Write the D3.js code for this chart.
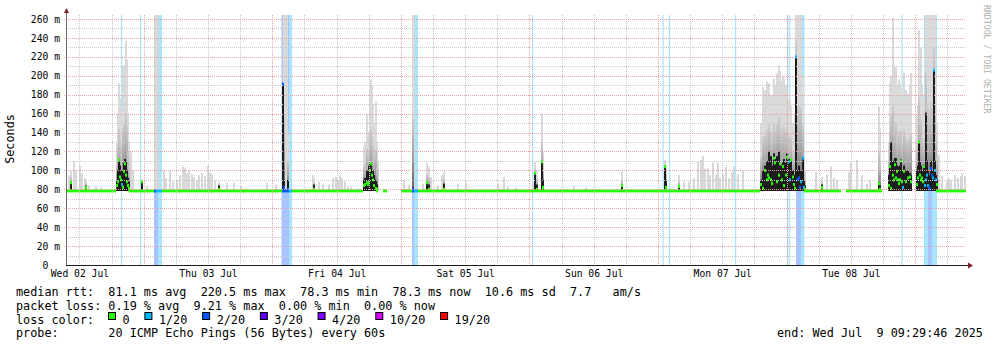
<!DOCTYPE html>
<html>
<head>
<meta charset="utf-8">
<script src="https://cdn.jsdelivr.net/npm/d3@7"></script>
<style>
html, body { margin: 0; padding: 0; background: #fff; }
svg text { font-family: "DejaVu Sans Mono", monospace; }
</style>
</head>
<body>
<div id="chart"></div>
<script>
// rrd rows: 900 rows of 672 s each, ending at the end stamp (one week)
const endStamp = new Date(2025, 6, 9, 9, 29, 46);
const rowSeconds = 672;
const baseMedian = 78.3;

const lossColors = ["#26ff00", "#00b8ff", "#0059ff", "#5e00ff", "#7e00ff", "#dd00ff", "#ff0000"];
const lossLabels = ["0", "1/20", "2/20", "3/20", "4/20", "10/20", "19/20"];

const yTicks = [0, 20, 40, 60, 80, 100, 120, 140, 160, 180, 200, 220, 240, 260];

// median at the base value: [start row, end row, loss level]
const medianRuns = [
    [0, 50, 0], [62.5, 88, 0], [88, 90, 2], [90, 96, 1], [96, 216, 0], [216, 223, 2], [223, 226, 1],
    [226, 297, 0], [310, 312, 0], [317, 321, 0], [335, 346, 0], [346, 348, 2], [348, 352, 1],
    [352, 694, 0], [738, 775, 0], [780, 816, 0], [870, 900, 0]
];

// rows with packet loss: [start row, end row, loss level]
const lossBands = [
    [55, 56.2, 1], [74, 75.2, 1], [88, 92, 2], [92, 96, 1], [215.5, 223, 2], [223, 226, 1],
    [346, 348, 2], [348, 352, 1], [466, 467.2, 1], [596.5, 597.7, 1], [603, 604.2, 1],
    [669, 670.2, 1], [721, 722.2, 1], [723, 724.2, 1], [730, 735, 2], [735, 738.5, 1],
    [835.5, 836.7, 1], [858, 862, 1], [862, 866, 2], [866, 871, 1]
];

// light smoke only: [row, max ping ms]
const lightSmoke = [
    [2, 95], [7, 109], [9, 100], [13, 105], [15, 97], [18, 92], [22, 84], [29, 83], [34, 82],
    [64, 120], [66, 100], [80, 84], [88, 265], [89, 265], [90, 265], [91, 265], [97, 100], [99, 92],
    [103, 100], [106, 88], [110, 90], [113, 95], [116, 104], [118, 103], [120, 97], [122, 100],
    [125, 96], [127, 93], [130, 90], [132, 95], [135, 97], [138, 94], [141, 105], [143, 98],
    [145, 96], [148, 90], [160, 87], [167, 87], [174, 84], [200, 87], [209, 85], [218, 265],
    [219, 265], [220, 265], [246, 95], [252, 88], [256, 86], [262, 85], [266, 92], [269, 93],
    [271, 90], [273, 95], [275, 92], [278, 88], [281, 83], [284, 83], [291, 81], [311, 110],
    [337, 90], [342, 85], [347, 265], [356, 86], [364, 93], [371, 84], [375, 95], [391, 86],
    [399, 87], [431, 86], [437, 93], [441, 83], [449, 82], [466, 87], [507, 84], [519, 82],
    [617, 88], [622, 88], [627, 92], [631, 109], [634, 111], [636, 115], [638, 102], [641, 102],
    [643, 95], [646, 108], [649, 96], [651, 108], [653, 92], [656, 96], [659, 104], [662, 92],
    [665, 98], [667, 104], [671, 96], [676, 100], [749, 98], [760, 96], [764, 104], [767, 92],
    [770, 90], [782, 98], [784, 108], [790, 111], [795, 95], [800, 86], [803, 90], [872, 116],
    [875, 94], [880, 88], [882, 92], [884, 90], [888, 95], [891, 92], [894, 94], [895, 97], [898, 94]
];

// spikes: [row, median ms, dark smoke top ms, max ping ms, loss level]
const spikes = [
    [4, 87, 88, 100, 0], [19, 82, 84, 90, 0],
    [50, 84, 90, 130, 0], [51, 88, 100, 160, 0], [52, 111, 112, 192, 0], [53, 93, 105, 176, 0],
    [54, 90, 100, 165, 0], [55, 85, 95, 150, 1], [56, 82, 100, 211, 0], [57, 99, 108, 211, 0],
    [58, 107, 112, 200, 0], [59, 95, 110, 237, 0], [60, 88, 100, 217, 0], [61, 84, 92, 160, 0],
    [62, 81, 88, 130, 0], [75, 88, 88, 91, 0], [152, 80, 84, 88, 0],
    [216, 191, 191, 191, 2], [217, 82, 90, 265, 2], [221, 80, 90, 140, 2], [247, 80, 85, 92, 0],
    [297, 84, 90, 125, 0], [298, 85, 92, 130, 0], [300, 87, 100, 160, 0], [301, 85, 95, 120, 0],
    [302, 87, 105, 140, 0], [303, 100, 107, 185, 0], [304, 107, 108, 196, 0], [305, 95, 100, 190, 0],
    [306, 90, 100, 170, 0], [307, 84, 95, 150, 0], [309, 81, 90, 173, 0], [310, 80, 85, 130, 0],
    [346, 80, 82, 265, 2], [360, 87, 88, 108, 0], [362, 80, 85, 104, 0], [377, 80, 86, 99, 0],
    [468, 97, 97, 109, 0], [470, 80, 85, 100, 0], [475, 109, 109, 160, 0], [476, 82, 90, 120, 0],
    [555, 84, 84, 99, 0], [598, 104, 104, 111, 0], [599, 82, 90, 105, 0], [612, 83, 84, 95, 0],
    [694, 85, 90, 150, 0], [696, 81, 100, 188, 0], [698, 100, 105, 185, 0], [700, 90, 110, 194, 0],
    [701, 95, 105, 190, 0], [702, 92, 120, 192, 0], [704, 90, 115, 180, 0], [705, 86, 105, 178, 0],
    [707, 113, 118, 197, 0], [708, 108, 112, 190, 0], [710, 88, 115, 203, 0], [712, 95, 120, 211, 0],
    [713, 107, 110, 205, 0], [715, 90, 105, 194, 0], [716, 104, 108, 200, 0], [717, 84, 112, 197, 0],
    [719, 95, 108, 190, 0], [720, 114, 118, 183, 0], [722, 109, 112, 175, 1], [723, 90, 100, 175, 1],
    [724, 111, 112, 169, 0], [726, 93, 100, 150, 0], [727, 85, 95, 148, 0], [728, 81, 92, 160, 0],
    [729, 220, 220, 265, 1], [730, 90, 100, 265, 2], [732, 92, 105, 265, 2], [733, 82, 100, 265, 2],
    [734, 88, 100, 265, 1], [736, 113, 113, 200, 1], [737, 82, 90, 116, 1], [738, 80, 84, 100, 0],
    [755, 82, 85, 93, 0],
    [812, 86, 87, 167, 0], [813, 80, 84, 144, 0], [822, 84, 95, 130, 0], [823, 104, 106, 192, 0],
    [824, 81, 130, 200, 0], [826, 95, 110, 261, 0], [827, 90, 108, 211, 0], [828, 106, 113, 205, 0],
    [829, 92, 113, 209, 0], [830, 99, 105, 190, 0], [831, 90, 100, 188, 0], [832, 86, 104, 196, 0],
    [833, 90, 105, 192, 0], [834, 110, 112, 187, 0], [835, 88, 100, 175, 0], [836, 82, 95, 170, 1],
    [837, 99, 105, 203, 0], [839, 88, 100, 185, 0], [841, 92, 100, 181, 0], [843, 93, 97, 190, 0],
    [844, 88, 95, 203, 0], [850, 85, 100, 160, 0], [851, 92, 105, 169, 0], [852, 130, 131, 248, 0],
    [853, 95, 110, 229, 0], [854, 90, 105, 229, 0], [855, 92, 100, 190, 0], [856, 88, 100, 180, 0],
    [857, 104, 106, 175, 0], [858, 84, 100, 170, 1], [859, 90, 161, 265, 1], [860, 95, 110, 265, 1],
    [861, 84, 100, 265, 1], [862, 82, 95, 265, 2], [863, 80, 90, 265, 2], [864, 102, 110, 265, 2],
    [865, 95, 100, 265, 2], [866, 92, 100, 265, 1], [867, 206, 206, 265, 1], [868, 100, 110, 265, 1],
    [869, 90, 95, 200, 1], [870, 85, 90, 150, 0]
];

const legendLines = [
    "median rtt:  81.1 ms avg  220.5 ms max  78.3 ms min  78.3 ms now  10.6 ms sd  7.7   am/s",
    "packet loss: 0.19 % avg  9.21 % max  0.00 % min  0.00 % now",
    "loss color:",
    "probe:       20 ICMP Echo Pings (56 Bytes) every 60s"
];
const endLabel = "end: Wed Jul  9 09:29:46 2025";

// set dimensions
const width = 997,
    height = 347,
    plot = { left: 66, right: 966, top: 15, bottom: 265 };

const svg = d3.select("#chart")
    .append("svg")
    .attr("width", width)
    .attr("height", height);

const startStamp = d3.timeDay.offset(endStamp, -7);
const rowTime = r => new Date(startStamp.getTime() + r * rowSeconds * 1000);

// scales
const x = d3.scaleTime()
    .domain([startStamp, endStamp])
    .range([plot.left, plot.right]);
const y = d3.scaleLinear()
    .domain([0, 260])
    .range([plot.bottom, 19]);
const rowX = r => x(rowTime(r));
const barW = r => rowX(r + 2) - rowX(r);

// defs: clip + smoke gradient
const defs = svg.append("defs");
defs.append("clipPath").attr("id", "plot-clip")
    .append("rect")
    .attr("x", plot.left).attr("y", plot.top)
    .attr("width", plot.right - plot.left).attr("height", plot.bottom - plot.top);
const grad = defs.append("linearGradient")
    .attr("id", "smoke-grad")
    .attr("x1", 0).attr("y1", 0).attr("x2", 0).attr("y2", 1);
[["0%", "#cdcdcd"], ["50%", "#a4a4a4"], ["100%", "#5c5c5c"]].forEach(s => {
    grad.append("stop").attr("offset", s[0]).attr("stop-color", s[1]);
});

const area = svg.append("g").attr("clip-path", "url(#plot-clip)");

// loss background
area.append("g").selectAll("rect")
    .data(lossBands)
    .join("rect")
    .attr("x", d => rowX(d[0]))
    .attr("width", d => rowX(d[1]) - rowX(d[0]))
    .attr("y", plot.top)
    .attr("height", plot.bottom - plot.top)
    .attr("fill", d => lossColors[d[2]])
    .attr("fill-opacity", 0.35);

// smoke
area.append("g").selectAll("rect")
    .data(lightSmoke)
    .join("rect")
    .attr("x", d => rowX(d[0]))
    .attr("width", d => barW(d[0]))
    .attr("y", d => y(d[1]))
    .attr("height", d => y(baseMedian) - y(d[1]))
    .attr("fill", "#d8d8d8");

const spikeG = area.append("g");
spikeG.selectAll(".smoke")
    .data(spikes)
    .join("rect")
    .attr("class", "smoke")
    .attr("x", d => rowX(d[0]))
    .attr("width", d => barW(d[0]))
    .attr("y", d => y(d[3]))
    .attr("height", d => y(baseMedian) - y(d[3]))
    .attr("fill", "#dadada");
// mid smoke: lower part of the spread, shaded toward the median
spikeG.selectAll(".mid")
    .data(spikes)
    .join("rect")
    .attr("class", "mid")
    .attr("x", d => rowX(d[0]))
    .attr("width", d => barW(d[0]))
    .attr("y", d => y(d[2] + (d[3] - d[2]) * 0.4))
    .attr("height", d => y(baseMedian) - y(d[2] + (d[3] - d[2]) * 0.4))
    .attr("fill", "url(#smoke-grad)");
spikeG.selectAll(".dark")
    .data(spikes)
    .join("rect")
    .attr("class", "dark")
    .attr("x", d => rowX(d[0]))
    .attr("width", d => barW(d[0]))
    .attr("y", d => y(d[2]))
    .attr("height", d => y(baseMedian) - y(d[2]))
    .attr("fill", "#1c1c1c");

// median line, coloured by loss
area.append("g").selectAll("rect")
    .data(medianRuns)
    .join("rect")
    .attr("x", d => rowX(d[0]))
    .attr("width", d => rowX(d[1]) - rowX(d[0]))
    .attr("y", y(baseMedian) - 1.5)
    .attr("height", 3)
    .attr("fill", d => lossColors[d[2]]);
area.append("g").selectAll("rect")
    .data(spikes)
    .join("rect")
    .attr("x", d => rowX(d[0]))
    .attr("width", 2)
    .attr("y", d => y(d[1]) - 1.5)
    .attr("height", 3)
    .attr("fill", d => lossColors[d[4]]);

// grid (rrdtool draws it over the graph)
const grid = svg.append("g").attr("stroke-dasharray", "1,1").attr("shape-rendering", "crispEdges");
const minorY = y.ticks(26).filter(v => v > 0 && v % 20 !== 0);
grid.selectAll(".hmin").data(minorY).join("line")
    .attr("x1", plot.left).attr("x2", plot.right)
    .attr("y1", d => Math.round(y(d)) + 0.5).attr("y2", d => Math.round(y(d)) + 0.5)
    .attr("stroke", "#c8c8c8");
const days = d3.timeDay.range(startStamp, endStamp);
const sixHours = d3.timeHour.every(6).range(startStamp, endStamp).filter(d => d.getHours() !== 0);
grid.selectAll(".vmin").data(sixHours).join("line")
    .attr("x1", d => Math.round(x(d)) + 0.5).attr("x2", d => Math.round(x(d)) + 0.5)
    .attr("y1", plot.top).attr("y2", plot.bottom)
    .attr("stroke", "#c8c8c8");
grid.selectAll(".hmaj").data(yTicks.filter(v => v > 0)).join("line")
    .attr("x1", plot.left - 2).attr("x2", plot.right)
    .attr("y1", d => Math.round(y(d)) + 0.5).attr("y2", d => Math.round(y(d)) + 0.5)
    .attr("stroke", "#e8a2a2");
grid.selectAll(".vmaj").data(days).join("line")
    .attr("x1", d => Math.round(x(d)) + 0.5).attr("x2", d => Math.round(x(d)) + 0.5)
    .attr("y1", plot.top).attr("y2", plot.bottom + 2)
    .attr("stroke", "#e8a2a2");

// axes
const yAxis = d3.axisLeft(y)
    .tickValues(yTicks)
    .tickFormat(v => v === 0 ? "0" : v + " m")
    .tickSize(0)
    .tickPadding(6);
const gy = svg.append("g")
    .attr("transform", "translate(" + plot.left + ",0)")
    .call(yAxis);
gy.select(".domain").remove();
gy.selectAll("text")
    .attr("font-family", "DejaVu Sans Mono")
    .attr("font-size", "9.7px")
    .attr("fill", "#000")
    .attr("dx", d => d === 0 ? -11.7 : 0);

const noons = days.map(d => d3.timeHour.offset(d, 12)).concat([d3.timeHour.offset(d3.timeDay.floor(startStamp), 12)])
    .filter(d => d > startStamp && d < endStamp);
const xAxis = d3.axisBottom(x)
    .tickValues(noons)
    .tickFormat(d3.timeFormat("%a %d %b"))
    .tickSize(0)
    .tickPadding(5.6);
const gx = svg.append("g")
    .attr("transform", "translate(0," + plot.bottom + ")")
    .call(xAxis);
gx.select(".domain").remove();
gx.selectAll("text")
    .attr("font-family", "DejaVu Sans Mono")
    .attr("font-size", "9.7px")
    .attr("fill", "#000");

// axis lines and arrows
svg.append("line")
    .attr("x1", plot.left + 0.5).attr("x2", plot.left + 0.5)
    .attr("y1", 12).attr("y2", plot.bottom + 0.5)
    .attr("stroke", "#6a6a6a");
svg.append("line")
    .attr("x1", plot.left).attr("x2", plot.right + 3)
    .attr("y1", plot.bottom + 0.5).attr("y2", plot.bottom + 0.5)
    .attr("stroke", "#1f1f1f");
svg.append("path")
    .attr("d", `M${plot.left - 2},13 L${plot.left + 0.5},8 L${plot.left + 3},13 Z`)
    .attr("fill", "#7f1f1f");
svg.append("path")
    .attr("d", `M${plot.right + 2},${plot.bottom - 2.5} L${plot.right + 7},${plot.bottom + 0.5} L${plot.right + 2},${plot.bottom + 3.5} Z`)
    .attr("fill", "#7f1f1f");

// vertical title and watermark
svg.append("text")
    .attr("transform", "translate(14,139) rotate(-90)")
    .attr("text-anchor", "middle")
    .attr("font-size", "11.8px")
    .attr("fill", "#000")
    .text("Seconds");
svg.append("text")
    .attr("transform", "translate(984,5) rotate(90)")
    .attr("font-size", "8.2px")
    .attr("fill", "#b0b0b0")
    .text("RRDTOOL / TOBI OETIKER");

// legend
const lineY = [296, 309.8, 323.6, 337.4];
legendLines.forEach((t, i) => {
    svg.append("text")
        .attr("x", 16)
        .attr("y", lineY[i])
        .attr("xml:space", "preserve")
        .style("white-space", "pre")
        .attr("font-size", "11.8px")
        .attr("fill", "#000")
        .text(t);
});

let cursor = 108;
lossLabels.forEach((label, i) => {
    svg.append("rect")
        .attr("x", cursor + 0.5).attr("y", 312.5)
        .attr("width", 7).attr("height", 7)
        .attr("fill", lossColors[i])
        .attr("stroke", "#000");
    const t = svg.append("text")
        .attr("x", cursor + 14.5)
        .attr("y", lineY[2])
        .attr("font-size", "11.8px")
        .attr("fill", "#000")
        .text(label);
    cursor += 14.5 + t.node().getComputedTextLength() + 14.8;
});

svg.append("text")
    .attr("x", 777)
    .attr("y", lineY[3])
    .attr("xml:space", "preserve")
    .style("white-space", "pre")
    .attr("font-size", "11.8px")
    .attr("fill", "#000")
    .text(endLabel);
</script>
</body>
</html>
